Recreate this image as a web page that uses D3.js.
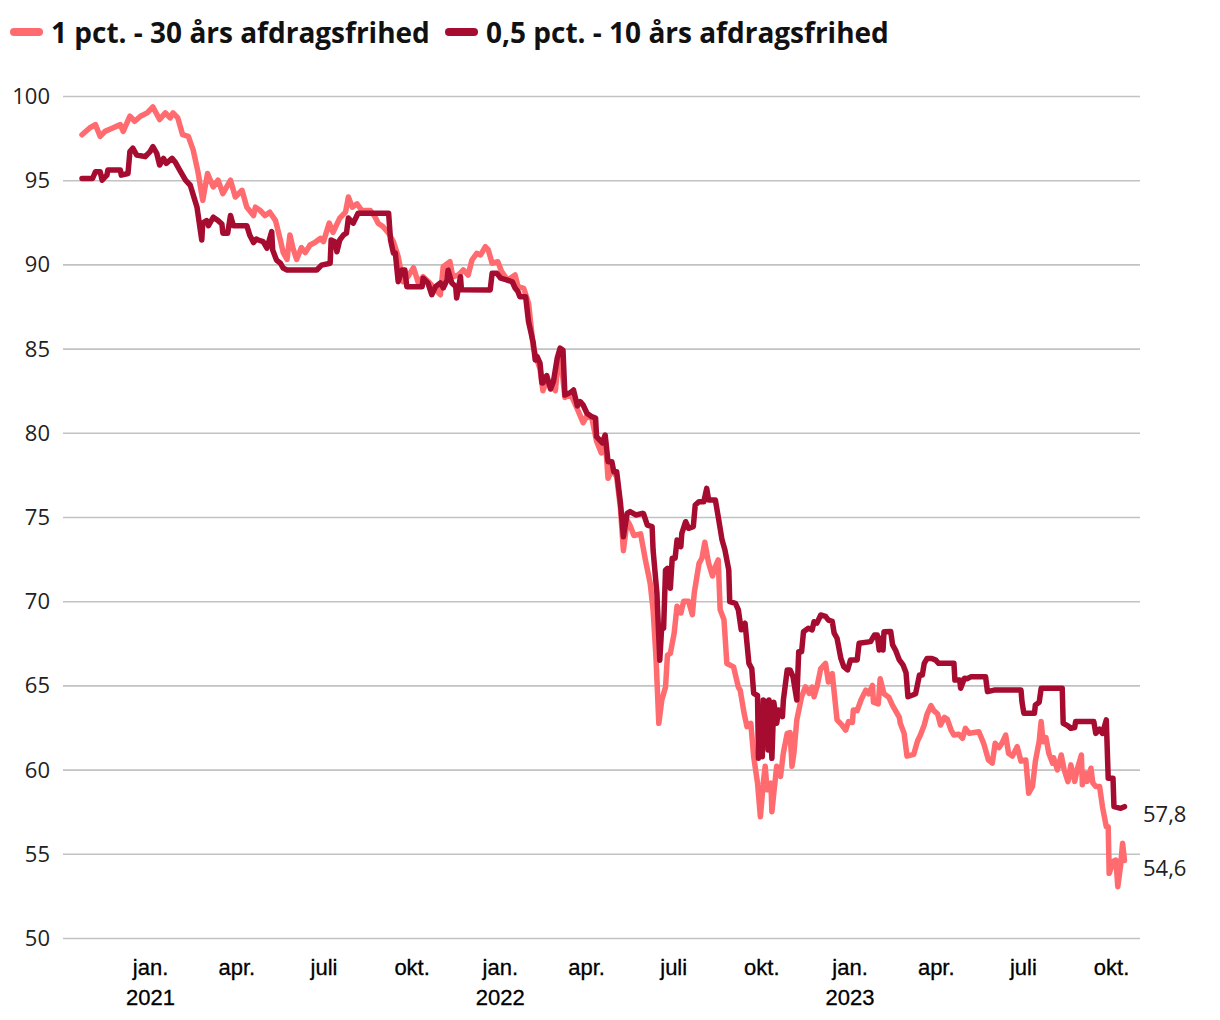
<!DOCTYPE html>
<html>
<head>
<meta charset="utf-8">
<script src="https://cdn.jsdelivr.net/npm/d3@7"></script>
<style>
  body { margin: 0; background: #fff; }
  svg { display: block; }
</style>
</head>
<body>
<svg class="chart"></svg>
<script>
// day numbers are counted from 1 jan. 2021
const baseDate = new Date(2021, 0, 1);

const seriesNames = ["1 pct. - 30 års afdragsfrihed", "0,5 pct. - 10 års afdragsfrihed"];
const seriesColors = ["#ff6b6e", "#a50c30"];

const lightSeries = [
  [-71, 97.7], [-63, 98.1], [-57, 98.3], [-52, 97.6], [-47, 97.9], [-39, 98.1], [-31, 98.3], [-28, 97.9],
  [-21, 98.8], [-16, 98.5], [-10, 98.8], [-3, 99.0], [3, 99.35], [10, 98.6], [16, 99.0], [21, 98.7],
  [24, 99.0], [29, 98.7], [34, 97.7], [40, 97.6], [45, 96.8], [50, 95.5], [55, 93.8], [60, 95.4],
  [66, 94.6], [71, 95.0], [76, 94.2], [84, 95.0], [89, 94.0], [96, 94.4], [101, 93.4], [108, 92.9],
  [110, 93.4], [115, 93.2], [120, 92.9], [125, 93.1], [131, 92.6], [136, 91.45], [139, 90.7], [143, 90.3],
  [146, 91.75], [149, 91.0], [153, 90.3], [158, 91.0], [162, 90.7], [167, 91.15], [172, 91.3], [178, 91.55],
  [181, 91.35], [187, 92.45], [191, 91.9], [198, 92.75], [204, 93.1], [207, 94.0], [211, 93.4], [216, 93.6],
  [221, 93.2], [230, 93.2], [235, 92.8], [238, 92.45], [243, 92.25], [249, 91.85], [254, 91.35], [259, 90.46],
  [264, 88.97], [269, 89.27], [275, 89.8], [280, 88.9], [285, 89.27], [292, 88.9], [298, 88.5], [303, 88.2],
  [306, 89.86], [313, 90.16], [316, 89.27], [322, 89.37], [327, 89.67], [332, 89.37], [336, 90.26], [341, 90.66],
  [345, 90.56], [350, 91.05], [353, 90.86], [357, 90.07], [363, 90.16], [367, 89.57], [373, 89.07], [381, 89.37],
  [384, 88.68], [390, 88.58], [395, 87.7], [400, 85.1], [404, 84.3], [407, 83.8], [410, 82.5], [414, 83.1],
  [418, 82.9], [423, 82.5], [426, 84.2], [428, 84.8], [433, 82.1], [439, 82.3], [446, 81.4], [452, 80.6],
  [456, 81.0], [461, 80.9], [466, 79.5], [471, 78.8], [475, 79.7], [478, 77.3], [482, 77.8], [487, 77.4],
  [491, 75.5], [494, 73.0], [498, 74.8], [501, 74.5], [505, 73.9], [512, 74.0], [517, 72.45], [522, 71.06],
  [525, 69.5], [528, 66.7], [531, 62.75], [534, 64.1], [538, 64.9], [540, 66.8], [543, 66.9], [547, 68.1],
  [550, 69.7], [554, 69.3], [557, 70.0], [562, 70.0], [566, 69.2], [568, 70.5], [573, 72.25], [576, 72.55],
  [579, 73.5], [583, 72.25], [587, 71.5], [590, 72.05], [593, 72.45], [595, 69.5], [599, 68.9], [602, 66.3],
  [609, 66.1], [614, 64.9], [616, 64.7], [620, 63.34], [623, 62.55], [627, 62.75], [630, 60.77], [634, 59.2],
  [637, 57.2], [640, 59.2], [642, 60.2], [644, 58.8], [648, 59.2], [649, 57.5], [651, 58.6], [654, 60.2],
  [658, 59.6], [661, 61.0], [665, 62.15], [668, 62.2], [670, 60.2], [672, 61.0], [675, 62.95], [680, 64.33],
  [684, 64.92], [688, 64.53], [691, 64.9], [693, 64.33], [696, 64.9], [700, 66.0], [705, 66.3], [708, 65.2],
  [712, 65.7], [717, 62.95], [722, 62.65], [726, 62.35], [729, 62.85], [733, 62.8], [734, 63.54], [738, 63.5],
  [742, 64.13], [747, 64.72], [750, 64.5], [754, 65.0], [755, 64.0], [760, 63.9], [762, 65.4], [766, 64.5],
  [771, 64.3], [775, 63.8], [778, 63.5], [782, 63.1], [783, 62.75], [787, 62.15], [790, 60.8], [797, 60.9],
  [801, 61.7], [804, 62.05], [808, 62.65], [811, 63.3], [815, 63.8], [818, 63.5], [822, 63.3], [825, 62.65],
  [829, 63.1], [832, 63.0], [836, 62.35], [839, 62.05], [844, 62.1], [848, 61.86], [851, 62.45], [855, 62.15],
  [860, 62.2], [865, 62.25], [870, 61.56], [875, 60.57], [879, 60.38], [882, 61.56], [886, 61.3], [889, 61.56],
  [893, 62.05], [896, 60.97], [900, 60.8], [905, 61.36], [909, 60.5], [914, 60.57], [917, 58.6], [921, 59.0],
  [924, 60.5], [928, 61.7], [930, 62.85], [932, 61.66], [935, 61.9], [938, 60.97], [942, 60.38], [943, 60.7],
  [947, 59.98], [951, 60.87], [954, 60.0], [958, 59.29], [961, 60.28], [965, 59.3], [968, 60.08], [972, 60.87],
  [973, 59.1], [976, 59.79], [978, 59.3], [982, 60.08], [984, 59.2], [987, 59.0], [991, 59.0], [994, 57.8],
  [998, 56.61], [1000, 56.6], [1001, 53.84], [1005, 54.54], [1008, 54.63], [1010, 53.05], [1013, 54.33],
  [1015, 55.62], [1017, 54.6]
];

const darkSeries = [
  [-71, 95.1], [-60, 95.1], [-57, 95.5], [-52, 95.5], [-50, 95.0], [-45, 95.3], [-44, 95.6], [-31, 95.6],
  [-30, 95.3], [-23, 95.4], [-21, 96.7], [-18, 96.9], [-14, 96.5], [-5, 96.4], [0, 96.7], [3, 97.0],
  [7, 96.6], [10, 95.9], [14, 96.3], [17, 96.0], [23, 96.3], [26, 96.1], [31, 95.6], [37, 95.0],
  [42, 94.7], [49, 93.4], [54, 91.45], [55, 92.45], [59, 92.6], [61, 92.3], [66, 92.8], [71, 92.6],
  [75, 92.4], [76, 91.85], [81, 91.85], [84, 92.9], [87, 92.3], [101, 92.3], [104, 91.75], [108, 91.3],
  [111, 91.5], [113, 91.45], [118, 91.35], [122, 90.96], [127, 91.95], [128, 90.85], [132, 90.26], [136, 90.07],
  [139, 89.78], [143, 89.67], [174, 89.67], [179, 89.96], [188, 90.07], [189, 91.45], [193, 91.35], [195, 90.75],
  [198, 91.45], [202, 91.75], [205, 91.85], [207, 92.75], [212, 92.45], [216, 92.9], [217, 93.04], [249, 93.04],
  [251, 91.45], [254, 90.67], [256, 90.67], [259, 88.97], [263, 89.67], [266, 89.67], [268, 88.68], [284, 88.68],
  [285, 89.18], [290, 88.9], [294, 88.2], [298, 88.68], [303, 88.9], [306, 88.6], [310, 89.07], [311, 89.67],
  [315, 88.9], [319, 88.68], [320, 88.0], [324, 89.27], [325, 88.5], [355, 88.48], [357, 89.47], [362, 89.47],
  [366, 89.18], [373, 89.07], [378, 88.97], [381, 88.6], [384, 88.38], [386, 88.08], [392, 88.08], [395, 86.6],
  [397, 86.1], [400, 85.33], [402, 84.32], [404, 84.52], [407, 84.14], [409, 82.96], [410, 82.96], [414, 83.4],
  [418, 82.6], [421, 83.04], [425, 84.44], [428, 85.03], [431, 84.9], [433, 82.24], [439, 82.4], [442, 82.54],
  [446, 81.6], [449, 81.85], [452, 81.65], [456, 81.16], [461, 80.96], [465, 80.88], [466, 79.77], [472, 79.4],
  [475, 79.87], [478, 78.28], [482, 78.28], [484, 77.69], [487, 77.69], [491, 75.81], [494, 73.83], [498, 75.22],
  [501, 75.32], [507, 75.12], [514, 75.22], [515, 75.2], [519, 74.52], [524, 74.43], [525, 73.04], [529, 70.47],
  [532, 66.5], [534, 68.48], [536, 68.4], [538, 71.85], [540, 71.95], [543, 70.77], [545, 72.55], [548, 72.55],
  [550, 73.63], [554, 73.24], [555, 74.03], [559, 74.72], [562, 74.33], [567, 74.43], [569, 75.71], [573, 75.91],
  [578, 75.91], [581, 76.7], [583, 76.01], [590, 76.01], [593, 75.02], [597, 73.63], [600, 73.04], [604, 71.85],
  [605, 69.97], [611, 69.87], [614, 69.48], [617, 68.3], [621, 68.69], [623, 67.5], [625, 66.31], [628, 66.0],
  [630, 64.53], [634, 64.4], [635, 60.67], [637, 62.35], [639, 60.77], [640, 64.13], [644, 63.9], [645, 61.16],
  [646, 64.13], [649, 60.67], [651, 64.0], [654, 62.75], [656, 63.54], [660, 63.14], [661, 64.13], [665, 65.92],
  [668, 65.92], [671, 65.52], [675, 64.13], [677, 67.0], [680, 67.0], [682, 68.19], [687, 68.39], [691, 68.3],
  [693, 68.78], [696, 68.7], [700, 69.18], [705, 69.1], [708, 68.88], [712, 68.8], [714, 68.1], [717, 67.8],
  [721, 66.6], [724, 66.11], [728, 65.92], [731, 66.51], [738, 66.51], [740, 67.5], [752, 67.6], [756, 67.99],
  [759, 67.99], [761, 67.1], [763, 67.8], [765, 67.1], [766, 68.19], [773, 68.2], [775, 67.4], [778, 67.1],
  [782, 66.51], [786, 66.2], [789, 65.75], [791, 64.33], [796, 64.43], [799, 64.5], [803, 65.62], [806, 65.62],
  [808, 66.31], [811, 66.6], [816, 66.6], [820, 66.5], [823, 66.31], [839, 66.31], [840, 65.32], [845, 65.32],
  [846, 64.83], [850, 65.42], [853, 65.4], [857, 65.52], [872, 65.52], [874, 64.63], [881, 64.72], [909, 64.72],
  [910, 64.03], [912, 63.34], [923, 63.34], [924, 63.84], [928, 64.0], [930, 64.83], [952, 64.83], [953, 62.75],
  [958, 62.6], [961, 62.45], [965, 62.5], [966, 62.85], [985, 62.85], [987, 62.15], [991, 62.4], [994, 62.15],
  [998, 62.95], [1000, 59.49], [1005, 59.49], [1006, 57.8], [1013, 57.7], [1017, 57.8]
];

const yTicks = [50, 55, 60, 65, 70, 75, 80, 85, 90, 95, 100];
const monthTicks = ["2021-01-01", "2021-04-01", "2021-07-01", "2021-10-01", "2022-01-01", "2022-04-01",
  "2022-07-01", "2022-10-01", "2023-01-01", "2023-04-01", "2023-07-01", "2023-10-01"];
const monthLabels = ["jan.", "", "", "apr.", "", "", "juli", "", "", "okt.", "", ""];
const endLabels = ["54,6", "57,8"];

const width = 1220, height = 1020;
const svg = d3.select(".chart").attr("width", width).attr("height", height);

const toDate = d => d3.timeDay.offset(baseDate, d);

const x = d3.scaleTime()
  .domain([toDate(-71), toDate(1017)])
  .range([82, 1124.5]);
const y = d3.scaleLinear().domain([50, 100]).range([938, 96]);

// gridlines + y labels
const yAxis = svg.append("g").attr("transform", "translate(63,0)")
  .call(d3.axisLeft(y).tickValues(yTicks).tickSize(-1077).tickFormat(d3.format("d")));
yAxis.select(".domain").remove();
yAxis.selectAll(".tick line").attr("stroke", "#c2c2c2").attr("stroke-width", 1.6);
yAxis.selectAll(".tick text").attr("x", -13).attr("dy", "0.34em")
  .style("font-family", "'Open Sans', sans-serif").style("font-size", "22px").attr("fill", "#222");

// x labels
const parse = d3.timeParse("%Y-%m-%d");
const xAxis = svg.append("g").attr("transform", "translate(0,938)")
  .call(d3.axisBottom(x).tickValues(monthTicks.map(parse)).tickSize(0)
    .tickFormat(d => monthLabels[d.getMonth()]));
xAxis.select(".domain").remove();
xAxis.selectAll(".tick text").attr("y", 21).attr("dy", "0.71em")
  .style("font-family", "'Liberation Sans', Arial, sans-serif").style("font-size", "22px")
  .style("font-weight", "500").attr("fill", "#000").attr("stroke", "#000").attr("stroke-width", 0.3);
xAxis.selectAll(".tick").filter(d => d.getMonth() === 0).append("text")
  .attr("y", 51).attr("dy", "0.71em").attr("fill", "#000").attr("stroke", "#000").attr("stroke-width", 0.3)
  .attr("text-anchor", "middle")
  .style("font-family", "'Liberation Sans', Arial, sans-serif").style("font-size", "22px")
  .text(d => d.getFullYear());

const line = d3.line().x(d => x(toDate(d[0]))).y(d => y(d[1]));

[lightSeries, darkSeries].forEach((s, i) => {
  svg.append("path").datum(s)
    .attr("d", line)
    .attr("fill", "none")
    .attr("stroke", seriesColors[i])
    .attr("stroke-width", 5.5)
    .attr("stroke-linejoin", "round")
    .attr("stroke-linecap", "round");
});

// end value labels
[lightSeries, darkSeries].forEach((s, i) => {
  const last = s[s.length - 1];
  svg.append("text")
    .attr("x", 1143).attr("y", y(last[1]) + 15)
    .style("font-family", "'Open Sans', sans-serif").style("font-size", "22px")
    .attr("fill", "#222").text(endLabels[i]);
});

// legend
const legendX = [12, 447];
const legend = svg.append("g");
seriesNames.forEach((name, i) => {
  legend.append("line")
    .attr("x1", legendX[i] + 2).attr("x2", legendX[i] + 27)
    .attr("y1", 32).attr("y2", 32)
    .attr("stroke", seriesColors[i]).attr("stroke-width", 8).attr("stroke-linecap", "round");
  legend.append("text")
    .attr("x", legendX[i] + 39).attr("y", 43)
    .style("font-family", "'Open Sans', sans-serif").style("font-size", "28px").style("font-weight", "bold")
    .attr("fill", "#111").text(name);
});
</script>
</body>
</html>
